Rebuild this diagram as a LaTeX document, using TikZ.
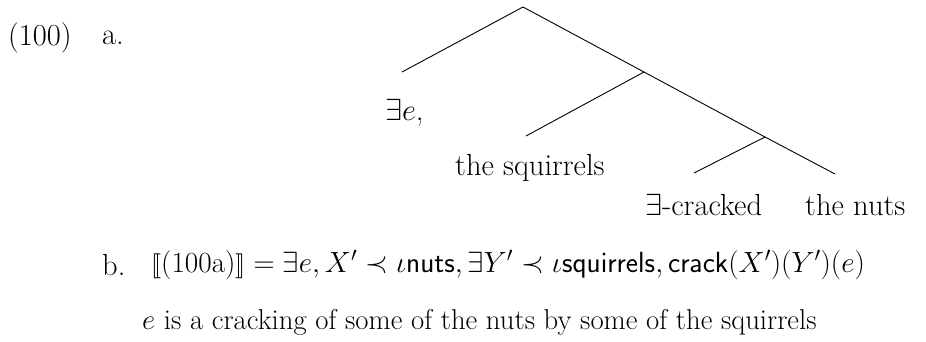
\RequirePackage{fix-cm}
\documentclass[tikz,border=0pt]{standalone}
\usepackage{amsmath,amssymb}
\usepackage{stmaryrd}
\begin{document}
\begin{tikzpicture}[x=1pt,y=-1pt,
  lbl/.style={inner sep=0pt,font=\fontsize{30.5}{34}\selectfont},
  branch/.style={line width=0.9pt}]
\useasboundingbox (0,0) rectangle (926,341);
% example number
\node[lbl,anchor=west] (num) at (8,38) {(100)};
\node[lbl,anchor=west] (a) at (102,38) {a.};
% tree
\coordinate (root) at (523,7);
\coordinate (n2) at (644,72);
\coordinate (n3) at (765,137);
\coordinate (e1) at (402,72);
\coordinate (e2) at (526,136);
\coordinate (e3) at (694,173);
\coordinate (e4) at (835,174);
\draw[branch] (root) -- (e1);
\draw[branch] (root) -- (n2) -- (n3) -- (e4);
\draw[branch] (n2) -- (e2);
\draw[branch] (n3) -- (e3);
\node[lbl,anchor=west] (l1) at (385,113) {$\exists e$,};
\node[lbl,anchor=west] (l2) at (455,168) {the squirrels};
\node[lbl,anchor=west] (l3) at (645,205) {$\exists$-cracked};
\node[lbl,anchor=west] (l4) at (805,205) {the nuts};
% b
\node[lbl,anchor=west] (b) at (102,265) {b.};
\node[lbl,anchor=west] (f) at (151,265) {\fontsize{29.2}{33}\selectfont $\llbracket\text{(100a)}\rrbracket = \exists e, X'\prec\iota\mathsf{nuts}, \exists Y'\prec\iota\mathsf{squirrels}, \mathsf{crack}(X')(Y')(e)$};
\node[lbl,anchor=west] (g) at (142,322) {\fontsize{28.7}{32}\selectfont $e$ is a cracking of some of the nuts by some of the squirrels};
\end{tikzpicture}
\end{document}
